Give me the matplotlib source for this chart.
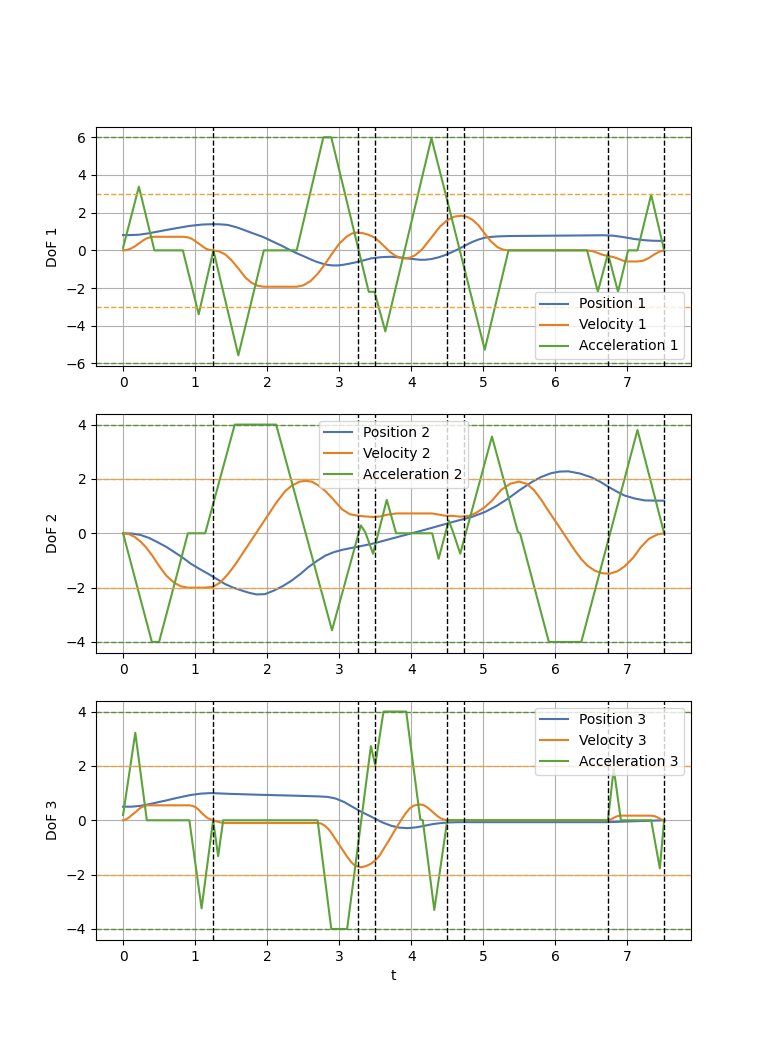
import numpy as np
import matplotlib.pyplot as plt

# breakpoints of the acceleration profiles and sampled velocity / position values
t_acc1 = [0, 0.22, 0.435, 0.83, 1.05, 1.254, 1.60, 1.954, 2.41, 2.78, 2.89, 3.41, 3.49, 3.64,
          4.28, 4.495, 5.02, 5.35, 6.44, 6.59, 6.73, 6.87, 7.01, 7.14, 7.33, 7.51]
acc1 = [0.13, 3.38, 0, 0, -3.39, 0, -5.57, 0, 0, 6.0, 6.0, -2.2, -2.2, -4.3,
        5.95, 2.72, -5.27, 0, 0, -2.19, -0.17, -2.2, 0, 0, 2.95, 0]
t_vel1 = [0, 0.05, 0.1, 0.16, 0.22, 0.28, 0.33, 0.38, 0.43, 0.83, 0.9, 0.95, 1.0, 1.05, 1.1, 1.15,
          1.2, 1.25, 1.33, 1.42, 1.5, 1.6, 1.7, 1.78, 1.86, 1.95, 2.41, 2.5, 2.6, 2.7, 2.78, 2.9,
          3.0, 3.1, 3.18, 3.26, 3.34, 3.41, 3.49, 3.56, 3.64, 3.71, 3.78, 3.85, 3.92, 3.98, 4.05,
          4.15, 4.28, 4.4, 4.5, 4.6, 4.7, 4.78, 4.85, 4.93, 5.02, 5.1, 5.2, 5.28, 5.35, 6.44, 6.52,
          6.59, 6.66, 6.73, 6.8, 6.87, 6.94, 7.01, 7.14, 7.22, 7.3, 7.38, 7.45, 7.51]
vel1 = [0, 0.02, 0.08, 0.2, 0.37, 0.53, 0.64, 0.7, 0.72, 0.72, 0.69, 0.62, 0.5, 0.36, 0.22, 0.09,
        0.02, 0, -0.05, -0.22, -0.5, -0.96, -1.45, -1.71, -1.87, -1.93, -1.93, -1.86, -1.64, -1.25,
        -0.85, -0.18, 0.35, 0.72, 0.9, 0.95, 0.9, 0.82, 0.68, 0.45, 0.16, -0.1, -0.29, -0.4, -0.43,
        -0.39, -0.27, 0.05, 0.68, 1.27, 1.6, 1.79, 1.84, 1.77, 1.62, 1.34, 0.89, 0.5, 0.16, 0.03, 0,
        0, -0.05, -0.14, -0.24, -0.3, -0.35, -0.44, -0.55, -0.59, -0.59, -0.55, -0.4, -0.2, -0.06, 0]
t_pos1 = [0, 0.1, 0.22, 0.35, 0.46, 0.7, 0.93, 1.1, 1.25, 1.35, 1.45, 1.58, 1.7, 1.82, 1.95, 2.07,
          2.2, 2.3, 2.42, 2.5, 2.6, 2.68, 2.78, 2.84, 2.91, 2.98, 3.05, 3.15, 3.26, 3.35, 3.45, 3.59,
          3.72, 3.86, 3.95, 4.05, 4.12, 4.19, 4.28, 4.37, 4.45, 4.55, 4.65, 4.75, 4.85, 4.93, 5.02,
          5.1, 5.2, 5.35, 6.03, 6.67, 6.8, 6.95, 7.1, 7.23, 7.35, 7.51]
pos1 = [0.81, 0.81, 0.83, 0.9, 0.98, 1.15, 1.3, 1.37, 1.39, 1.38, 1.35, 1.22, 1.05, 0.88, 0.7, 0.48,
        0.25, 0.05, -0.17, -0.3, -0.47, -0.6, -0.72, -0.77, -0.8, -0.8, -0.77, -0.7, -0.61, -0.52,
        -0.42, -0.36, -0.34, -0.38, -0.43, -0.47, -0.5, -0.5, -0.46, -0.38, -0.28, -0.12, 0.06, 0.26,
        0.45, 0.57, 0.67, 0.71, 0.74, 0.76, 0.78, 0.8, 0.78, 0.7, 0.6, 0.54, 0.51, 0.5]

t_acc2 = [0, 0.40, 0.50, 0.90, 1.14, 1.55, 2.125, 2.90, 3.30, 3.36, 3.47, 3.66, 3.79, 4.29, 4.38,
          4.52, 4.58, 4.68, 5.12, 5.48, 5.51, 5.91, 6.36, 7.14, 7.51]
acc2 = [0, -4, -4, 0, 0, 4, 4, -3.57, 0.29, 0.05, -0.75, 1.23, 0, 0, -0.94,
        0.47, 0.05, -0.75, 3.56, 0.05, 0.0, -4, -4, 3.8, 0]
t_vel2 = [0, 0.08, 0.16, 0.24, 0.32, 0.4, 0.5, 0.6, 0.71, 0.8, 0.9, 1.14, 1.25, 1.35, 1.45, 1.55,
          1.64, 1.87, 2.125, 2.25, 2.34, 2.45, 2.535, 2.62, 2.7, 2.81, 2.9, 3.04, 3.15, 3.25, 3.36,
          3.47, 3.57, 3.66, 3.79, 4.29, 4.38, 4.46, 4.52, 4.58, 4.68, 4.8, 4.9, 5.02, 5.12, 5.25,
          5.38, 5.5, 5.6, 5.7, 5.8, 5.91, 6.04, 6.15, 6.27, 6.36, 6.45, 6.55, 6.65, 6.75, 6.86,
          6.96, 7.08, 7.19, 7.3, 7.42, 7.51]
vel2 = [0, -0.03, -0.13, -0.3, -0.52, -0.8, -1.2, -1.56, -1.82, -1.95, -2.0, -2.0, -1.97, -1.81,
        -1.52, -1.18, -0.82, 0.1, 1.12, 1.55, 1.75, 1.9, 1.93, 1.9, 1.78, 1.55, 1.3, 0.88, 0.7, 0.65,
        0.62, 0.6, 0.62, 0.68, 0.73, 0.73, 0.69, 0.65, 0.64, 0.64, 0.61, 0.64, 0.75, 0.96, 1.2, 1.6,
        1.83, 1.9, 1.82, 1.6, 1.25, 0.8, 0.29, -0.15, -0.63, -0.95, -1.2, -1.38, -1.47, -1.49, -1.4,
        -1.22, -0.9, -0.5, -0.2, -0.04, 0]
t_pos2 = [0, 0.12, 0.24, 0.36, 0.48, 0.6, 0.71, 0.83, 0.94, 1.06, 1.18, 1.3, 1.41, 1.52, 1.64,
          1.75, 1.85, 1.97, 2.10, 2.22, 2.34, 2.46, 2.57, 2.69, 2.81, 2.92, 3.04, 3.15, 3.27, 3.5,
          3.72, 3.95, 4.19, 4.42, 4.65, 4.84, 5.02, 5.18, 5.34, 5.5, 5.67, 5.8, 5.94, 6.06, 6.18,
          6.34, 6.5, 6.62, 6.73, 6.85, 6.96, 7.1, 7.24, 7.38, 7.51]
pos2 = [0, -0.01, -0.06, -0.17, -0.33, -0.5, -0.69, -0.9, -1.12, -1.31, -1.49, -1.68, -1.86, -1.99,
        -2.1, -2.19, -2.25, -2.24, -2.1, -1.94, -1.74, -1.5, -1.25, -1.02, -0.82, -0.7, -0.61, -0.55,
        -0.49, -0.36, -0.2, -0.04, 0.13, 0.3, 0.47, 0.6, 0.78, 1.0, 1.27, 1.58, 1.88, 2.07, 2.21, 2.27,
        2.28, 2.2, 2.06, 1.9, 1.72, 1.54, 1.39, 1.28, 1.21, 1.2, 1.2]

t_acc3 = [0, 0.17, 0.33, 0.92, 1.09, 1.25, 1.32, 1.39, 2.70, 2.89, 3.11, 3.44, 3.5, 3.615, 3.93,
          4.125, 4.16, 4.32, 4.5, 6.73, 6.81, 6.91, 7.33, 7.45, 7.51]
acc3 = [0.19, 3.22, 0, 0, -3.24, 0, -1.32, 0, 0, -4, -4, 2.73, 2.03, 4, 4,
        0.04, 0, -3.3, 0, 0, 1.9, 0, 0, -1.77, 0]
t_vel3 = [0, 0.04, 0.08, 0.12, 0.17, 0.21, 0.25, 0.29, 0.33, 0.92, 0.96, 1.0, 1.05, 1.09, 1.14,
          1.18, 1.25, 1.32, 1.39, 2.70, 2.75, 2.80, 2.85, 2.89, 3.0, 3.11, 3.17, 3.22, 3.3, 3.37,
          3.44, 3.5, 3.56, 3.615, 3.69, 3.75, 3.81, 3.87, 3.93, 3.98, 4.03, 4.08, 4.125, 4.17, 4.22,
          4.27, 4.32, 4.37, 4.41, 4.46, 4.5, 6.73, 6.77, 6.81, 6.86, 6.91, 7.33, 7.38, 7.42, 7.47,
          7.51]
vel3 = [0, 0.03, 0.1, 0.19, 0.29, 0.39, 0.47, 0.52, 0.55, 0.55, 0.53, 0.49, 0.39, 0.27, 0.15, 0.07,
        0.0, -0.06, -0.1, -0.1, -0.12, -0.2, -0.32, -0.46, -0.9, -1.34, -1.55, -1.67, -1.73, -1.69,
        -1.6, -1.48, -1.3, -1.06, -0.74, -0.47, -0.2, 0.05, 0.28, 0.44, 0.53, 0.57, 0.58, 0.56, 0.48,
        0.37, 0.25, 0.14, 0.07, 0.02, 0, 0, 0.03, 0.09, 0.15, 0.17, 0.17, 0.15, 0.1, 0.03, 0]
t_pos3 = [0, 0.12, 0.24, 0.36, 0.48, 0.6, 0.71, 0.83, 0.94, 1.08, 1.22, 1.5, 1.87, 2.3, 2.7, 2.84,
          2.95, 3.07, 3.18, 3.3, 3.4, 3.49, 3.6, 3.72, 3.83, 3.95, 4.07, 4.19, 4.3, 4.42, 4.53,
          4.65, 6.73, 7.05, 7.51]
pos3 = [0.5, 0.5, 0.53, 0.59, 0.66, 0.73, 0.8, 0.87, 0.93, 0.98, 1.0, 0.97, 0.94, 0.91, 0.88, 0.86,
        0.8, 0.67, 0.5, 0.32, 0.19, 0.07, -0.08, -0.2, -0.27, -0.29, -0.26, -0.2, -0.14, -0.1, -0.08,
        -0.07, -0.07, -0.04, 0.0]

waypoints = [1.25, 3.26, 3.49, 4.5, 4.73, 6.73, 7.51]
vel_limits = [3, 2, 2]
acc_limits = [6, 4, 4]

c_pos = '#4c72b0'
c_vel = '#e67e22'
c_acc = '#5ca33a'

data = [
    (t_pos1, pos1, t_vel1, vel1, t_acc1, acc1),
    (t_pos2, pos2, t_vel2, vel2, t_acc2, acc2),
    (t_pos3, pos3, t_vel3, vel3, t_acc3, acc3),
]
legend_locs = ['lower right', 'upper center', 'upper right']
ylims = [(-6.13, 6.56), (-4.4, 4.4), (-4.4, 4.4)]

fig, axes = plt.subplots(3, 1, figsize=(7.68, 10.56), dpi=100)
for i, ax in enumerate(axes):
    tp, p, tv, v, ta, a = data[i]
    ax.plot(tp, p, color=c_pos, lw=1.5, label='Position %d' % (i + 1))
    ax.plot(tv, v, color=c_vel, lw=1.5, label='Velocity %d' % (i + 1))
    ax.plot(ta, a, color=c_acc, lw=1.5, label='Acceleration %d' % (i + 1))
    for s in (1, -1):
        ax.axhline(s * vel_limits[i], color='#eba33a', ls='--', lw=1)
        ax.axhline(s * acc_limits[i], color='#5b8f3c', ls='--', lw=1)
    for w in waypoints:
        ax.axvline(w, color='black', ls='--', lw=1)
    ax.grid(True)
    ax.set_ylim(*ylims[i])
    ax.set_ylabel('DoF %d' % (i + 1))
    ax.legend(loc=legend_locs[i])
axes[-1].set_xlabel('t')

fig.savefig('out.png')
